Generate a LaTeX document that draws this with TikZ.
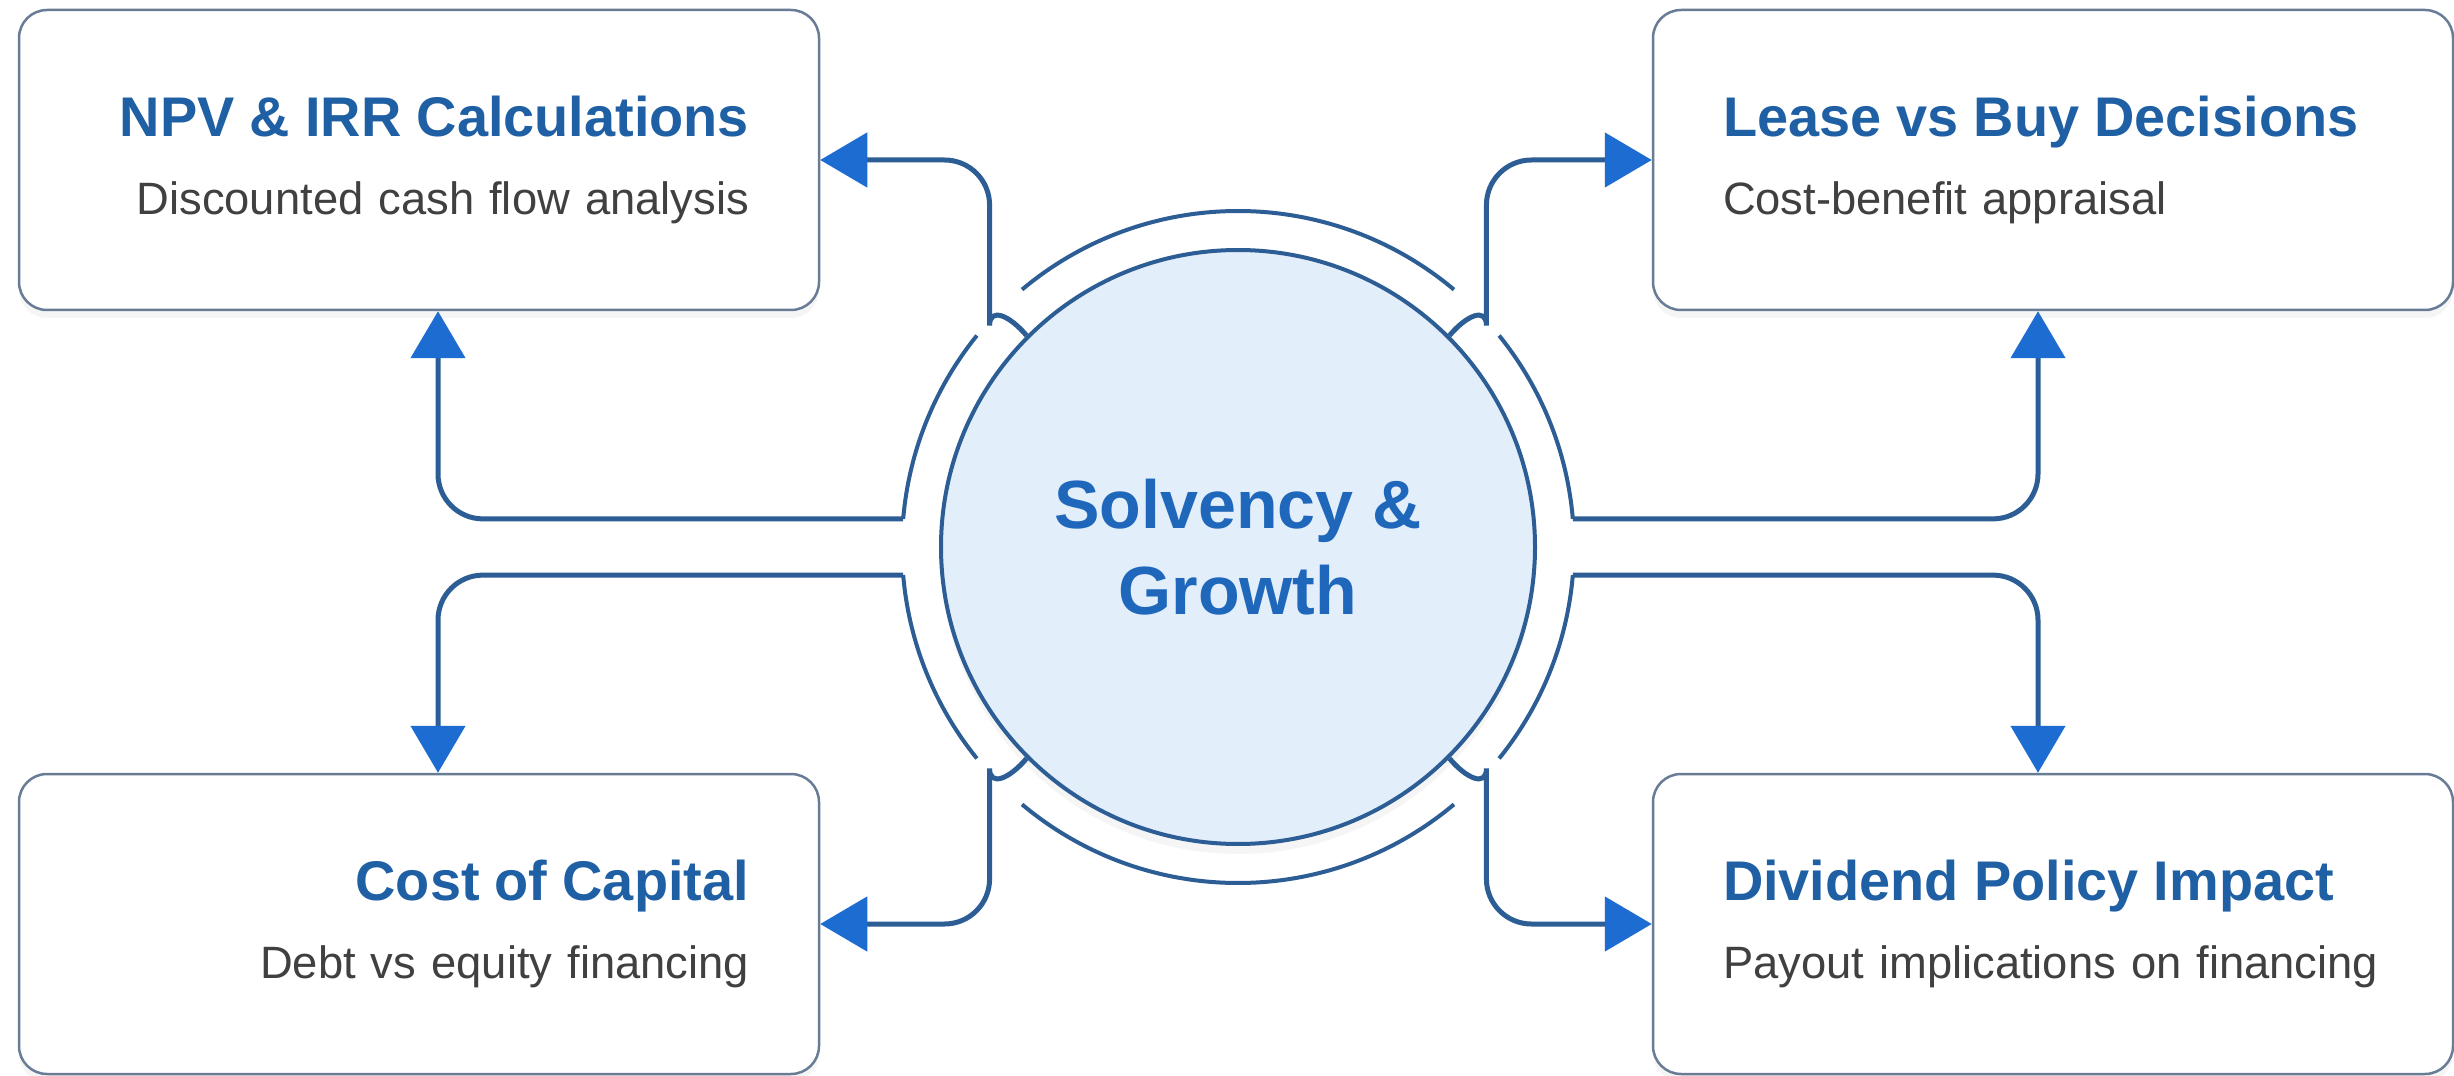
\documentclass[tikz,border=0pt]{standalone}
\usepackage{fontspec}
\setmainfont{Liberation Sans}
\usepackage{xcolor}
\usepackage{tikz}
\usetikzlibrary{arrows.meta,positioning,calc,shadows}

\definecolor{ttlblue}{HTML}{1F5FA3}
\definecolor{hubblue}{HTML}{1F67BA}
\definecolor{subgray}{HTML}{404040}
\definecolor{lineblue}{HTML}{2C5D94}
\definecolor{tipblue}{HTML}{1D6CD1}
\definecolor{hubfill}{HTML}{E3EEFB}
\definecolor{boxdraw}{HTML}{687C96}

\newcommand{\boxtitle}[1]{{\fontsize{15.9}{22.2}\selectfont\bfseries\color{ttlblue}#1}}

\begin{document}
\begin{tikzpicture}[x=0.1mm, y=0.1mm,
  card/.style  = {rectangle, draw=boxdraw, line width=0.25mm, fill=white,
                  rounded corners=2.8mm, minimum width=80mm, minimum height=30mm,
                  inner xsep=7mm, text width=66mm, text=subgray,
                  font=\fontsize{12.9}{22.2}\selectfont,
                  drop shadow={opacity=0.08, shadow xshift=0mm, shadow yshift=-0.8mm}},
  cardL/.style = {card, align=right},
  cardR/.style = {card, align=left},
  hub/.style   = {circle, draw=lineblue, line width=0.4mm, fill=hubfill,
                  minimum size=59.4mm, inner sep=0pt, align=center, text=hubblue,
                  font=\fontsize{19.4}{24.6}\selectfont\bfseries,
                  drop shadow={opacity=0.08, shadow xshift=0mm, shadow yshift=-1mm}},
  ring/.style  = {draw=lineblue, line width=0.4mm},
  conn/.style  = {draw=lineblue, line width=0.5mm, rounded corners=4.5mm,
                  -{Triangle[length=4.7mm, width=5.4mm, color=tipblue]}}
]
\useasboundingbox[fill=white] (0,0) rectangle (2454,1075);

% ,  Corner cards ,
\node[cardL] (npv)   at (419,915)  {\boxtitle{NPV \& IRR Calculations}\\Discounted cash flow analysis};
\node[cardR] (lease) at (2053,915) {\boxtitle{Lease vs Buy Decisions}\\Cost-benefit appraisal};
\node[cardL] (coc)   at (419,151)  {\boxtitle{Cost of Capital}\\Debt vs equity financing};
\node[cardR] (div)   at (2053,151) {\boxtitle{Dividend Policy Impact}\\Payout implications on financing};

% ,  Central hub ,
\node[hub] (hub) at (1238,528) {Solvency \&\\Growth};

% ,  Broken outer ring ,
\foreach \a/\b in {50/130, 141/175.2, 184.8/219, 230/310, 321/355.2, 4.8/39}
  \draw[ring] ($(hub.center)+(\a:336)$) arc[start angle=\a, end angle=\b, radius=336];

% ,  Connector columns and ring exits ,
\coordinate (lcol) at (438,530);
\coordinate (rcol) at (2038,530);
\coordinate (lu) at ($(hub.center)+(175.2:336)$);
\coordinate (ld) at ($(hub.center)+(184.8:336)$);
\coordinate (ru) at ($(hub.center)+(4.8:336)$);
\coordinate (rd) at ($(hub.center)+(-4.8:336)$);

% ,  Arrows: ring → card edges ,
\draw[conn] (lu) -| (lcol |- npv.south);
\draw[conn] (ld) -| (lcol |- coc.north);
\draw[conn] (ru) -| (rcol |- lease.south);
\draw[conn] (rd) -| (rcol |- div.north);

% ,  Arrows: hub diagonals → card sides ,
\draw[conn] (hub.135) to[out=130,in=-90] ++(-37,55)  |- (npv.east);
\draw[conn] (hub.45)  to[out=50,in=-90]  ++(37,55)   |- (lease.west);
\draw[conn] (hub.225) to[out=230,in=90]  ++(-37,-55) |- (coc.east);
\draw[conn] (hub.-45) to[out=-50,in=90]  ++(37,-55)  |- (div.west);

\end{tikzpicture}
\end{document}
